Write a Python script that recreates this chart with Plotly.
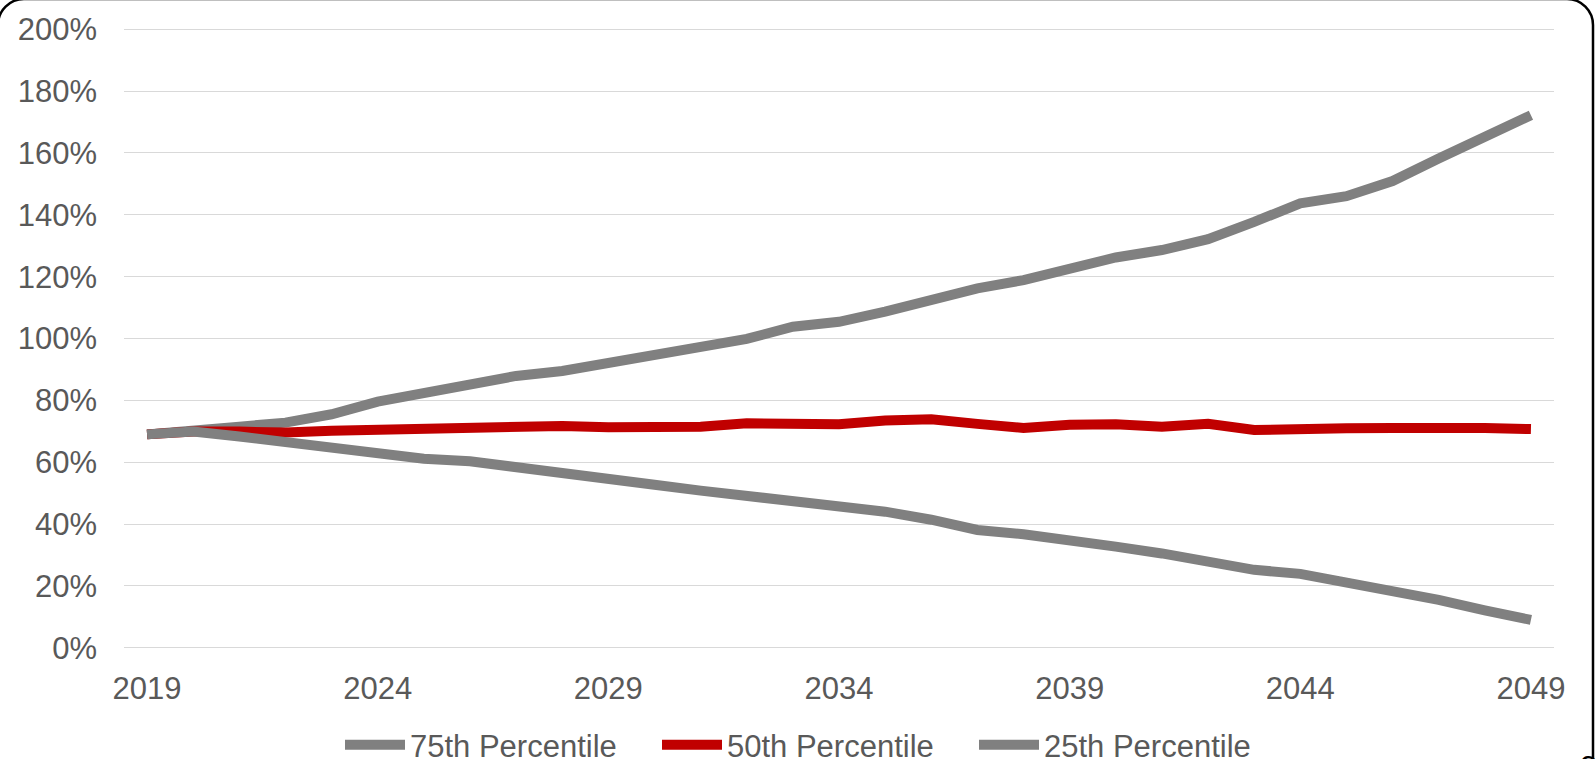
import plotly.graph_objects as go

years = list(range(2019, 2050))
p75 = [69.0, 69.9, 71.5, 72.8, 75.5, 79.6, 82.6, 85.3, 87.9, 89.5, 92.2, 95.0, 97.2, 99.9,
       103.8, 105.4, 108.7, 112.4, 116.2, 118.9, 122.9, 126.2, 128.6, 132.1, 137.7, 143.7,
       146.0, 150.9, 158.2, 164.9, 172.2]
p50 = [69.0, 69.9, 69.9, 69.6, 70.2, 70.6, 71.2, 71.3, 71.6, 71.7, 71.3, 71.5, 71.5, 72.6,
       72.8, 72.3, 73.5, 73.9, 72.4, 71.1, 72.1, 72.3, 71.5, 72.4, 70.4, 71.0, 71.0, 71.1,
       71.3, 71.1, 70.7]
p25 = [69.0, 69.9, 68.3, 66.5, 64.5, 62.9, 61.1, 60.3, 58.6, 56.7, 55.0, 52.7, 50.8, 49.2,
       47.3, 45.7, 44.0, 41.4, 38.1, 36.7, 35.1, 32.7, 30.5, 27.6, 25.2, 23.9, 21.2, 18.7,
       15.5, 12.1, 9.0]
series_names = ["75th Percentile", "50th Percentile", "25th Percentile"]
series_colors = ["#808080", "#C00000", "#808080"]
x_tickvals = [2019, 2024, 2029, 2034, 2039, 2044, 2049]
y_tickvals = list(range(0, 201, 20))
y_ticktext = [f"{v}%" for v in y_tickvals]

W, H = 1595, 759
ML, MR, MT, MB = 124, 41, 28, 110
PW, PH = W - ML - MR, H - MT - MB
FONT = "Liberation Sans, Arial, sans-serif"
TXT = "#595959"


def cx(x):
    return x / W


def cy(y):
    return (H - y) / H


def px(x):
    return (x - ML) / PW


def py(y):
    return (H - MB - y) / PH


fig = go.Figure()
for name, vals, col in zip(series_names, [p75, p50, p25], series_colors):
    fig.add_trace(go.Scatter(
        x=years, y=vals, name=name, mode="lines",
        line=dict(color=col, width=10),
    ))

# rounded frame (partially visible)
L, T, R, B, r = -2, -1, 1593, 820, 26
k = 0.5523 * r
path = (
    f"M {px(L)},{py(B)} L {px(L)},{py(T + r)} "
    f"C {px(L)},{py(T + r - k)} {px(L + r - k)},{py(T)} {px(L + r)},{py(T)} "
    f"L {px(R - r)},{py(T)} "
    f"C {px(R - r + k)},{py(T)} {px(R)},{py(T + r - k)} {px(R)},{py(T + r)} "
    f"L {px(R)},{py(B)}"
)
fig.add_shape(type="path", xref="paper", yref="paper", path=path,
              line=dict(color="black", width=2.5), layer="above")

fig.add_annotation(text="3", xref="paper", yref="paper", x=px(1589), y=py(748),
                   xanchor="center", yanchor="top", showarrow=False,
                   font=dict(family=FONT, size=31, color="black"))

fig.update_layout(
    width=W, height=H,
    margin=dict(l=ML, r=MR, t=MT, b=MB, pad=0, autoexpand=False),
    paper_bgcolor="white", plot_bgcolor="white",
    font=dict(family=FONT, size=31, color=TXT),
    showlegend=True,
    legend=dict(orientation="h", xref="container", yref="container",
                xanchor="left", x=cx(340), yanchor="middle", y=cy(745),
                font=dict(family=FONT, size=31, color=TXT), bgcolor="rgba(0,0,0,0)",
                itemwidth=60, entrywidth=242, entrywidthmode="pixels", traceorder="normal"),
    xaxis=dict(range=[2018.5, 2049.5], tickvals=x_tickvals, ticktext=[str(v) for v in x_tickvals],
               showgrid=False, zeroline=False, showline=False, ticks="",
               tickfont=dict(family=FONT, size=31, color=TXT), ticklabelstandoff=18),
    yaxis=dict(range=[-0.4, 200.4], tickvals=y_tickvals, ticktext=y_ticktext,
               showgrid=True, gridcolor="#D9D9D9", gridwidth=1.3, zeroline=False, showline=False,
               ticks="", tickfont=dict(family=FONT, size=31, color=TXT), ticklabelstandoff=26),
)

fig.write_html("out.html")
